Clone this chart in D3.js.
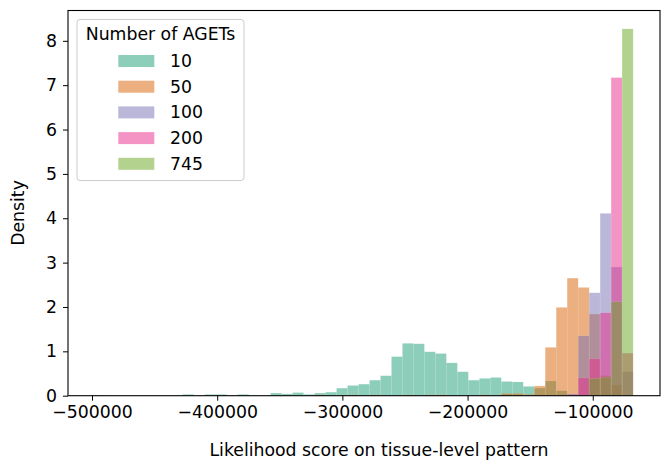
<!DOCTYPE html>
<html>
<head>
<meta charset="utf-8">
<script src="https://cdn.jsdelivr.net/npm/d3@7/dist/d3.min.js"></script>
<style>
  html, body { margin: 0; padding: 0; background: #fff; }
  svg { display: block; font-family: "DejaVu Sans", sans-serif; }
</style>
</head>
<body>
<svg id="chart" width="662" height="466"></svg>
<script>
// Histogram bins shared by every group
const binStart = -497700;
const binWidth = 8774;
const binCount = 49;

// Group labels (number of AGETs) and their colours (Dark2)
const groups = ["10", "50", "100", "200", "745"];
const colors = ["#1b9e77", "#d95f02", "#7570b3", "#e7298a", "#66a61e"];

// Density per bin (x1e-5), one array per group
const density10 = [
  0.01, 0, 0, 0, 0, 0, 0, 0, 0.03, 0,
  0.03, 0.03, 0, 0.03, 0, 0, 0.06, 0.04, 0.07, 0.03,
  0.06, 0.08, 0.17, 0.23, 0.26, 0.35, 0.45, 0.88, 1.18, 1.17,
  0.99, 0.95, 0.74, 0.54, 0.35, 0.39, 0.41, 0.32, 0.31, 0.21,
  0.17, 0.33, 0.11, 0.02, 0, 0, 0, 0, 0
];
const density50 = [
  0, 0, 0, 0, 0, 0, 0, 0, 0, 0,
  0, 0, 0, 0, 0, 0, 0, 0, 0, 0,
  0.02, 0, 0, 0.02, 0, 0.02, 0, 0, 0.02, 0,
  0.02, 0.02, 0, 0, 0, 0.02, 0, 0.05, 0.05, 0.03,
  0.22, 1.09, 1.99, 2.65, 2.44, 1.84, 0.45, 0.24, 0
];
const density100 = [
  0, 0, 0, 0, 0, 0, 0, 0, 0, 0,
  0, 0, 0, 0, 0, 0, 0, 0, 0, 0,
  0, 0, 0, 0, 0, 0, 0, 0, 0, 0,
  0, 0, 0, 0, 0, 0, 0, 0, 0, 0,
  0, 0, 0, 0.04, 1.35, 2.32, 4.11, 2.90, 0.54
];
const density200 = [
  0, 0, 0, 0, 0, 0, 0, 0, 0, 0,
  0, 0, 0, 0, 0, 0, 0, 0, 0, 0,
  0, 0, 0, 0, 0, 0, 0, 0, 0, 0,
  0, 0, 0, 0, 0, 0, 0, 0, 0, 0,
  0, 0, 0, 0.02, 0.40, 0.83, 1.87, 7.17, 0.96
];
const density745 = [
  0, 0, 0, 0, 0, 0, 0, 0, 0, 0,
  0, 0, 0, 0, 0, 0, 0, 0, 0, 0,
  0, 0, 0, 0, 0, 0, 0, 0, 0, 0,
  0, 0, 0, 0, 0, 0, 0, 0, 0, 0,
  0, 0, 0, 0, 0, 0.39, 0.42, 2.12, 8.27
];
const densities = [density10, density50, density100, density200, density745];

const xTicks = [-500000, -400000, -300000, -200000, -100000];
const yTicks = [0, 1, 2, 3, 4, 5, 6, 7, 8];
const xTitle = "Likelihood score on tissue-level pattern";
const yTitle = "Density";
const legendTitle = "Number of AGETs";

const svg = d3.select("#chart");
const plot = { left: 68, top: 10.5, right: 660, bottom: 395.7 };
const fontSize = 17.3;

// Data extent padded by 5% on each side
const dataMin = binStart;
const dataMax = binStart + binWidth * binCount;
const pad = (dataMax - dataMin) * 0.05;
const x = d3.scaleLinear()
  .domain([dataMin - pad, dataMax + pad])
  .range([plot.left, plot.right]);
const yMax = d3.max(densities.flat()) * 1.05;
const y = d3.scaleLinear()
  .domain([0, yMax])
  .range([plot.bottom, plot.top]);

// Bars, layered in group order (later groups on top)
const layers = svg.append("g");
groups.forEach((name, g) => {
  const bins = densities[g].map((v, i) => ({
    x0: binStart + i * binWidth,
    x1: binStart + (i + 1) * binWidth,
    v
  })).filter(d => d.v > 0);
  layers.append("g")
    .selectAll("rect")
    .data(bins)
    .join("rect")
    .attr("x", d => x(d.x0))
    .attr("width", d => x(d.x1) - x(d.x0))
    .attr("y", d => y(d.v))
    .attr("height", d => y(0) - y(d.v))
    .attr("fill", colors[g])
    .attr("fill-opacity", 0.5)
    .attr("stroke", "#ffffff")
    .attr("stroke-opacity", 0.2)
    .attr("stroke-width", 0.5);
});

// Axes
const xAxis = d3.axisBottom(x)
  .tickValues(xTicks)
  .tickFormat(d => d3.format("d")(d).replace("-", "\u2212"))
  .tickSize(5).tickPadding(5);
const yAxis = d3.axisLeft(y)
  .tickValues(yTicks)
  .tickFormat(d3.format("d"))
  .tickSize(5).tickPadding(6);

const gx = svg.append("g")
  .attr("transform", `translate(0,${plot.bottom})`)
  .call(xAxis);
const gy = svg.append("g")
  .attr("transform", `translate(${plot.left},0)`)
  .call(yAxis);
[gx, gy].forEach(g => {
  g.select(".domain").remove();
  g.selectAll(".tick line").attr("stroke", "#000").attr("stroke-width", 1);
  g.selectAll(".tick text")
    .attr("fill", "#000")
    .style("font-family", "DejaVu Sans")
    .style("font-size", fontSize + "px");
});

// Frame
svg.append("rect")
  .attr("x", plot.left).attr("y", plot.top)
  .attr("width", plot.right - plot.left)
  .attr("height", plot.bottom - plot.top)
  .attr("fill", "none")
  .attr("stroke", "#000")
  .attr("stroke-width", 1.1);

// Axis titles
svg.append("text")
  .attr("x", 379).attr("y", 456)
  .attr("text-anchor", "middle")
  .style("font-size", fontSize + "px")
  .text(xTitle);
svg.append("text")
  .attr("transform", "translate(24,213) rotate(-90)")
  .attr("text-anchor", "middle")
  .style("font-size", fontSize + "px")
  .text(yTitle);

// Legend
const legend = svg.append("g");
legend.append("rect")
  .attr("x", 77).attr("y", 19.5)
  .attr("width", 167).attr("height", 161)
  .attr("rx", 3)
  .attr("fill", "#fff").attr("fill-opacity", 0.8)
  .attr("stroke", "#cccccc");
legend.append("text")
  .attr("x", 160.5).attr("y", 40)
  .attr("text-anchor", "middle")
  .style("font-size", fontSize + "px")
  .text(legendTitle);
groups.forEach((name, i) => {
  const cy = 61 + i * 25.7;
  legend.append("rect")
    .attr("x", 118.3).attr("y", cy - 6)
    .attr("width", 36).attr("height", 12)
    .attr("fill", colors[i]).attr("fill-opacity", 0.5);
  legend.append("text")
    .attr("x", 170).attr("y", cy + 6)
    .style("font-size", fontSize + "px")
    .text(name);
});
</script>
</body>
</html>
